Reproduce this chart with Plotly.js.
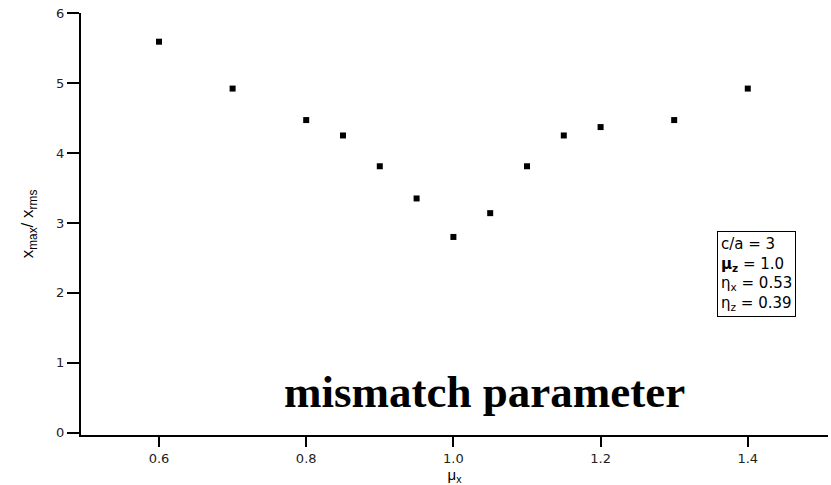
<!DOCTYPE html>
<html>
<head>
<meta charset="utf-8">
<script src="https://cdn.plot.ly/plotly-3.0.1.min.js"></script>
<style>body{margin:0;padding:0;background:#fff;} #chart{width:831px;height:485px;}</style>
</head>
<body>
<div id="chart"></div>
<script>
// mismatch parameter mu_x vs x_max / x_rms
const muX = [0.6, 0.7, 0.8, 0.85, 0.9, 0.95, 1.0, 1.05, 1.1, 1.15, 1.2, 1.3, 1.4];
const ratio = [5.59, 4.92, 4.47, 4.25, 3.81, 3.35, 2.80, 3.14, 3.81, 4.25, 4.37, 4.47, 4.92];
const xTickVals = [0.6, 0.8, 1.0, 1.2, 1.4];
const xTickText = ["0.6", "0.8", "1.0", "1.2", "1.4"];
const yTickVals = [0, 1, 2, 3, 4, 5, 6];
const paramLines = ["c/a = 3", "<b>μ</b><sub><b>z</b></sub> = 1.0", "η<sub>x</sub> = 0.53", "η<sub>z</sub> = 0.39"];

const trace = {
  x: muX, y: ratio, type: 'scatter', mode: 'markers',
  marker: {symbol: 'square', size: 6, color: '#000'},
  showlegend: false, hoverinfo: 'skip'
};

const tickFont = {family: 'DejaVu Sans, sans-serif', size: 13, color: '#222'};

const layout = {
  width: 831, height: 485,
  margin: {l: 81, r: 3, t: 13, b: 50},
  paper_bgcolor: '#fff', plot_bgcolor: '#fff',
  xaxis: {
    range: [0.494, 1.509], tickvals: xTickVals, ticktext: xTickText,
    showgrid: false, zeroline: false, showline: true, linecolor: '#000', linewidth: 2,
    ticks: 'outside', ticklen: 10, tickwidth: 2, tickcolor: '#000',
    tickfont: tickFont,
    title: {text: 'μ<sub>x</sub>', font: {family: 'Liberation Sans, Arial, sans-serif', size: 15, color: '#000'}, standoff: 0}
  },
  yaxis: {
    range: [-0.03, 6], tickvals: yTickVals,
    showgrid: false, zeroline: false, showline: true, linecolor: '#000', linewidth: 2,
    ticks: 'outside', ticklen: 12, tickwidth: 2, tickcolor: '#000',
    tickfont: tickFont,
    title: {text: 'x<sub>max</sub>/ x<sub>rms</sub>', font: {family: 'Liberation Sans, Arial, sans-serif', size: 17, color: '#000'}, standoff: 18}
  },
  annotations: [
    {xref: 'paper', yref: 'paper', x: 0.54, y: 0.102, xanchor: 'center', yanchor: 'middle',
     text: '<b>mismatch parameter</b>', showarrow: false,
     font: {family: 'Liberation Serif, Times New Roman, serif', size: 45, color: '#000'}},
    {xref: 'paper', yref: 'paper', x: 0.851, y: 0.28, xanchor: 'left', yanchor: 'bottom',
     text: paramLines.join('<br>'), showarrow: false, align: 'left',
     bordercolor: '#000', borderwidth: 1, borderpad: 3, bgcolor: '#fff',
     font: {family: 'DejaVu Sans, sans-serif', size: 15, color: '#000'}}
  ]
};

Plotly.newPlot('chart', [trace], layout, {displayModeBar: false, staticPlot: true});
</script>
</body>
</html>
